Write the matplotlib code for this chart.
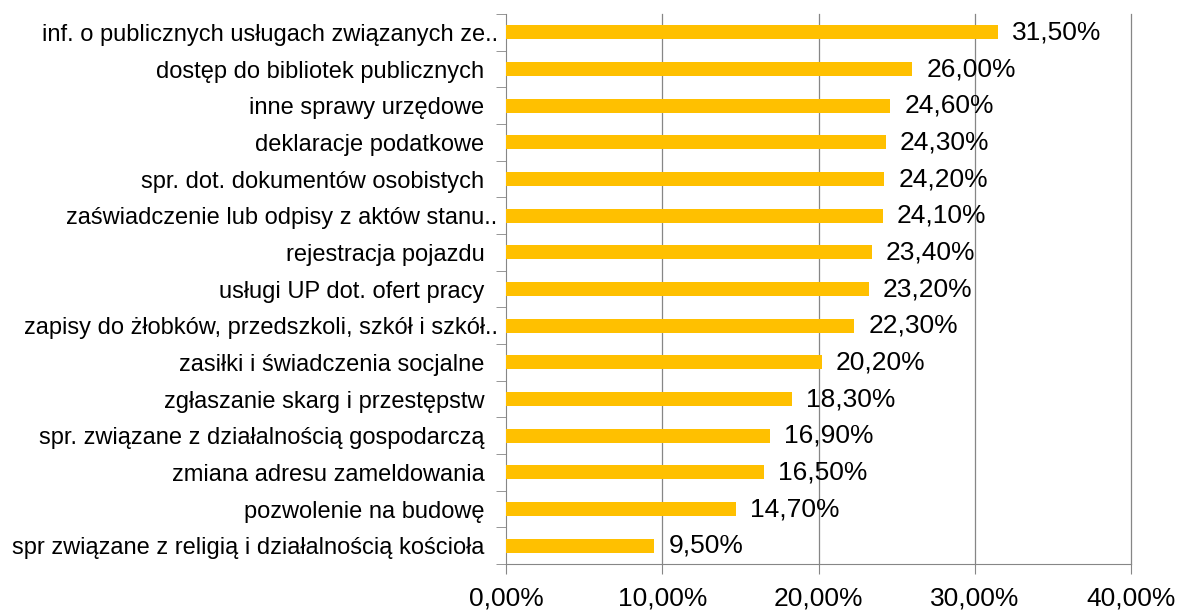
import matplotlib.pyplot as plt

plt.rcParams['font.family'] = ['Liberation Sans', 'DejaVu Sans']

# dane od góry do dołu
kategorie = [
    "inf. o publicznych usługach związanych ze..",
    "dostęp do bibliotek publicznych  ",
    "inne sprawy urzędowe  ",
    "deklaracje podatkowe  ",
    "spr. dot. dokumentów osobistych  ",
    "zaświadczenie lub odpisy z aktów stanu..",
    "rejestracja pojazdu  ",
    "usługi UP dot. ofert pracy  ",
    "zapisy do żłobków, przedszkoli, szkół i szkół..",
    "zasiłki i świadczenia socjalne  ",
    "zgłaszanie skarg i przestępstw  ",
    "spr. związane z działalnością gospodarczą  ",
    "zmiana adresu zameldowania  ",
    "pozwolenie na budowę  ",
    "spr związane z religią i działalnością kościoła  ",
]
wartosci = [31.5, 26.0, 24.6, 24.3, 24.2, 24.1, 23.4, 23.2, 22.3, 20.2, 18.3, 16.9, 16.5, 14.7, 9.5]
ticki_x = [0, 10, 20, 30, 40]

fig = plt.figure(figsize=(11.8, 6.15), dpi=100)
ax = fig.add_axes([0.4288, 0.0829, 0.5297, 0.8943])

n = len(kategorie)
y = list(range(n))[::-1]
ax.barh(y, wartosci, height=0.38, color='#FFC000', zorder=3)

for yi, v in zip(y, wartosci):
    ax.text(v + 0.9, yi, f"{v:.2f}%".replace('.', ','), va='center', ha='left',
            fontsize=19, color='black', zorder=4)

ax.set_xlim(0, 40)
ax.set_ylim(-0.5, n - 0.5)
ax.set_xticks(ticki_x)
ax.set_xticklabels([f"{t:.2f}%".replace('.', ',') for t in ticki_x], fontsize=19)
ax.set_yticks(y)
ax.set_yticklabels(kategorie, fontsize=17)

# kreski osi Y między kategoriami
ax.set_yticks([i - 0.5 for i in range(n + 1)], minor=True)
ax.tick_params(axis='y', which='major', length=0, pad=6)
ax.tick_params(axis='y', which='minor', length=7, color='#868686')
ax.tick_params(axis='x', length=7, color='#868686', pad=9)

for t in ticki_x[1:]:
    ax.axvline(t, color='#868686', linewidth=0.9, zorder=0, clip_on=False)
for s in ['top', 'right']:
    ax.spines[s].set_visible(False)
for s in ['left', 'bottom']:
    ax.spines[s].set_color('#868686')

fig.savefig('out.png', dpi=100)
